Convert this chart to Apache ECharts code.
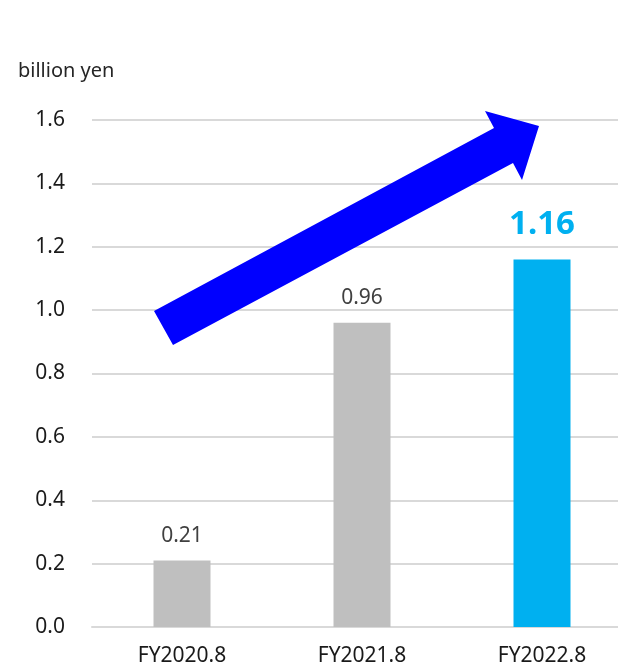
<!DOCTYPE html>
<html>
<head>
<meta charset="utf-8">
<script src="https://cdn.jsdelivr.net/npm/echarts@6/dist/echarts.min.js"></script>
<style>
html,body{margin:0;padding:0;background:#fff;}
#chart{width:618px;height:668px;}
</style>
</head>
<body>
<div id="chart"></div>
<script>
const categories = ['FY2020.8', 'FY2021.8', 'FY2022.8'];
const values = [0.21, 0.96, 1.16];
const unitLabel = 'billion yen';
const yMin = 0, yMax = 1.6, yStep = 0.2;

const FONT = 'Noto Sans';
const chart = echarts.init(document.getElementById('chart'), null, {renderer: 'canvas'});

const barData = values.map((v, i) => {
  const last = i === values.length - 1;
  return {
    value: v,
    itemStyle: {color: last ? '#00b0f0' : '#bfbfbf'},
    label: last ? {
      color: '#00b0f0', fontSize: 33, fontWeight: 'bold', distance: 18
    } : {
      color: '#404040', fontSize: 21, distance: 14
    }
  };
});

chart.setOption({
  animation: false,
  textStyle: {fontFamily: FONT},
  title: {
    text: unitLabel, left: 13, top: 56,
    textStyle: {fontFamily: FONT, fontSize: 20, fontWeight: 'normal', color: '#262626'}
  },
  grid: {left: 92, top: 120, width: 540, height: 507, outerBoundsMode: 'none', containLabel: false},
  xAxis: {
    type: 'category', data: categories,
    axisLine: {show: true, lineStyle: {color: '#d9d9d9', width: 2}},
    axisTick: {show: false},
    axisLabel: {fontFamily: FONT, fontSize: 21, color: '#1a1a1a', margin: 19}
  },
  yAxis: {
    type: 'value', min: yMin, max: yMax, interval: yStep,
    axisLine: {show: false}, axisTick: {show: false},
    axisLabel: {fontFamily: FONT, fontSize: 21, color: '#1a1a1a', margin: 27,
      formatter: v => v.toFixed(1)},
    splitLine: {lineStyle: {color: '#d9d9d9', width: 2}}
  },
  series: [{
    type: 'bar', data: barData, barWidth: 57,
    label: {show: true, position: 'top', fontFamily: FONT,
      formatter: p => p.value.toFixed(2)}
  }],
  graphic: [{
    type: 'polygon', z: 100,
    shape: {points: [[154,311],[494,128],[485,111],[539,126],[522,180],[513,163],[173,345]]},
    style: {fill: '#0000ff'}
  }]
});
</script>
</body>
</html>
